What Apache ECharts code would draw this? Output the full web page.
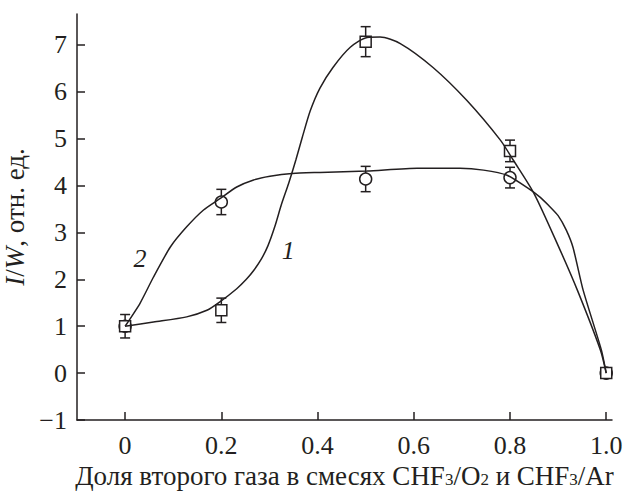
<!DOCTYPE html>
<html>
<head>
<meta charset="utf-8">
<script src="https://cdn.jsdelivr.net/npm/echarts@6/dist/echarts.min.js"></script>
<style>
  html, body { margin: 0; padding: 0; background: #fff; }
  #chart { width: 627px; height: 491px; }
</style>
</head>
<body>
<div id="chart"></div>
<script>
// measured points
const xs = [0, 0.2, 0.5, 0.8, 1.0]
const series1 = [1.0, 1.34, 7.07, 4.74, 0]
const err1 = [0.25, 0.26, 0.32, 0.23, 0]
const series2 = [1.0, 3.65, 4.14, 4.17, 0]
const err2 = [0, 0.27, 0.27, 0.22, 0]

// fitted curves
const fit1 = [
  [0, 1.0], [0.059, 1.09], [0.128, 1.2], [0.17, 1.34], [0.197, 1.52], [0.232, 1.8],
  [0.252, 2.0], [0.268, 2.2], [0.283, 2.43], [0.297, 2.72], [0.311, 3.12], [0.325, 3.6],
  [0.34, 4.05], [0.355, 4.55], [0.368, 5.02], [0.385, 5.6], [0.405, 6.08], [0.432, 6.52],
  [0.468, 6.95], [0.503, 7.16], [0.53, 7.17], [0.572, 7.03], [0.64, 6.52], [0.71, 5.82],
  [0.78, 4.97], [0.807, 4.54], [0.85, 3.83], [0.9, 2.72], [0.94, 1.77], [0.988, 0.49], [1.0, 0]
]
const fit2 = [
  [0, 1.0], [0.031, 1.49], [0.059, 2.05], [0.094, 2.69], [0.128, 3.12], [0.163, 3.48],
  [0.197, 3.72], [0.232, 3.97], [0.267, 4.12], [0.301, 4.2], [0.347, 4.26], [0.405, 4.28],
  [0.503, 4.31], [0.607, 4.37], [0.696, 4.37], [0.745, 4.33], [0.794, 4.22], [0.838, 3.94],
  [0.863, 3.75], [0.88, 3.58], [0.9, 3.36], [0.917, 3.05], [0.931, 2.68], [0.952, 1.77],
  [0.99, 0.49], [1.0, 0]
]

// curve numbers
const curveLabels = [[0.339, 2.62, '1'], [0.031, 2.45, '2']]

const xTicks = [0, 0.2, 0.4, 0.6, 0.8, 1.0]
const yTicks = [-1, 0, 1, 2, 3, 4, 5, 6, 7]

const FONT = 'Liberation Serif'
const INK = '#231f20'
const FS = 26

const chart = echarts.init(document.getElementById('chart'), null, { renderer: 'svg' })

function errorBar(params, api) {
  const x = api.value(0)
  const y = api.value(1)
  const e = api.value(2)
  if (!e) return null
  const top = api.coord([x, y + e])
  const bot = api.coord([x, y - e])
  const w = 5
  const style = { stroke: INK, lineWidth: 1.5 }
  return {
    type: 'group',
    children: [
      { type: 'line', shape: { x1: top[0], y1: top[1], x2: bot[0], y2: bot[1] }, style },
      { type: 'line', shape: { x1: top[0] - w, y1: top[1], x2: top[0] + w, y2: top[1] }, style },
      { type: 'line', shape: { x1: bot[0] - w, y1: bot[1], x2: bot[0] + w, y2: bot[1] }, style }
    ]
  }
}

chart.setOption({
  animation: false,
  grid: { left: 77, right: 15, top: 14, bottom: 71, outerBoundsMode: 'none' },
  xAxis: {
    type: 'value',
    min: -0.1,
    max: 1.012,
    name: 'Доля второго газа в смесях CHF{s|3}/O{s|2} и CHF{s|3}/Ar',
    nameLocation: 'middle',
    nameGap: 38,
    nameTextStyle: {
      fontFamily: FONT, fontSize: 27, color: INK, lineHeight: 26,
      rich: { s: { fontFamily: FONT, fontSize: 17, color: INK, lineHeight: 26, padding: [7, 0, 0, 0] } }
    },
    axisLine: { onZero: false, lineStyle: { color: INK, width: 1.5 } },
    axisTick: { inside: true, length: 8, lineStyle: { color: INK, width: 1.5 }, customValues: xTicks },
    axisLabel: {
      customValues: xTicks,
      fontFamily: FONT, fontSize: FS, color: INK, margin: 12,
      formatter: v => (v === 0 ? '0' : v.toFixed(1))
    },
    splitLine: { show: false }
  },
  yAxis: {
    type: 'value',
    min: -1,
    max: 7.66,
    name: '{i|I}/{i|W}, отн. ед.',
    nameLocation: 'middle',
    nameGap: 40,
    nameTextStyle: {
      fontFamily: FONT, fontSize: 27, color: INK,
      rich: { i: { fontFamily: FONT, fontSize: 27, fontStyle: 'italic', color: INK } }
    },
    axisLine: { show: true, onZero: false, lineStyle: { color: INK, width: 1.5 } },
    axisTick: { show: true, inside: true, length: 8, lineStyle: { color: INK, width: 1.5 }, customValues: yTicks },
    axisLabel: {
      customValues: yTicks,
      fontFamily: FONT, fontSize: FS, color: INK, margin: 10,
      formatter: v => (v < 0 ? '\u2212' + Math.abs(v) : String(v))
    },
    splitLine: { show: false }
  },
  series: [
    {
      type: 'custom', name: 'err2', renderItem: errorBar, z: 2,
      data: xs.map((x, i) => [x, series2[i], err2[i]])
    },
    {
      type: 'custom', name: 'err1', renderItem: errorBar, z: 2,
      data: xs.map((x, i) => [x, series1[i], err1[i]])
    },
    {
      type: 'scatter', name: '2', symbol: 'circle', symbolSize: 12, z: 3,
      itemStyle: { color: '#fff', borderColor: INK, borderWidth: 1.5, opacity: 1 },
      data: xs.map((x, i) => [x, series2[i]])
    },
    {
      type: 'scatter', name: '1', symbol: 'rect', symbolSize: 11, z: 4,
      itemStyle: { color: '#fff', borderColor: INK, borderWidth: 1.5, opacity: 1 },
      data: xs.map((x, i) => [x, series1[i]])
    },
    {
      type: 'line', name: 'fit1', data: fit1, smooth: 0.25, showSymbol: false, z: 5,
      lineStyle: { color: INK, width: 1.5 }
    },
    {
      type: 'line', name: 'fit2', data: fit2, smooth: 0.2, showSymbol: false, z: 5,
      lineStyle: { color: INK, width: 1.5 }
    },
    {
      type: 'scatter', name: 'labels', symbolSize: 0, z: 6, silent: true,
      itemStyle: { opacity: 1 },
      data: curveLabels.map(d => ({ value: [d[0], d[1]], label: { formatter: d[2] } })),
      label: {
        show: true, position: 'inside',
        fontFamily: FONT, fontSize: FS, fontStyle: 'italic', color: INK
      }
    }
  ]
})
</script>
</body>
</html>
